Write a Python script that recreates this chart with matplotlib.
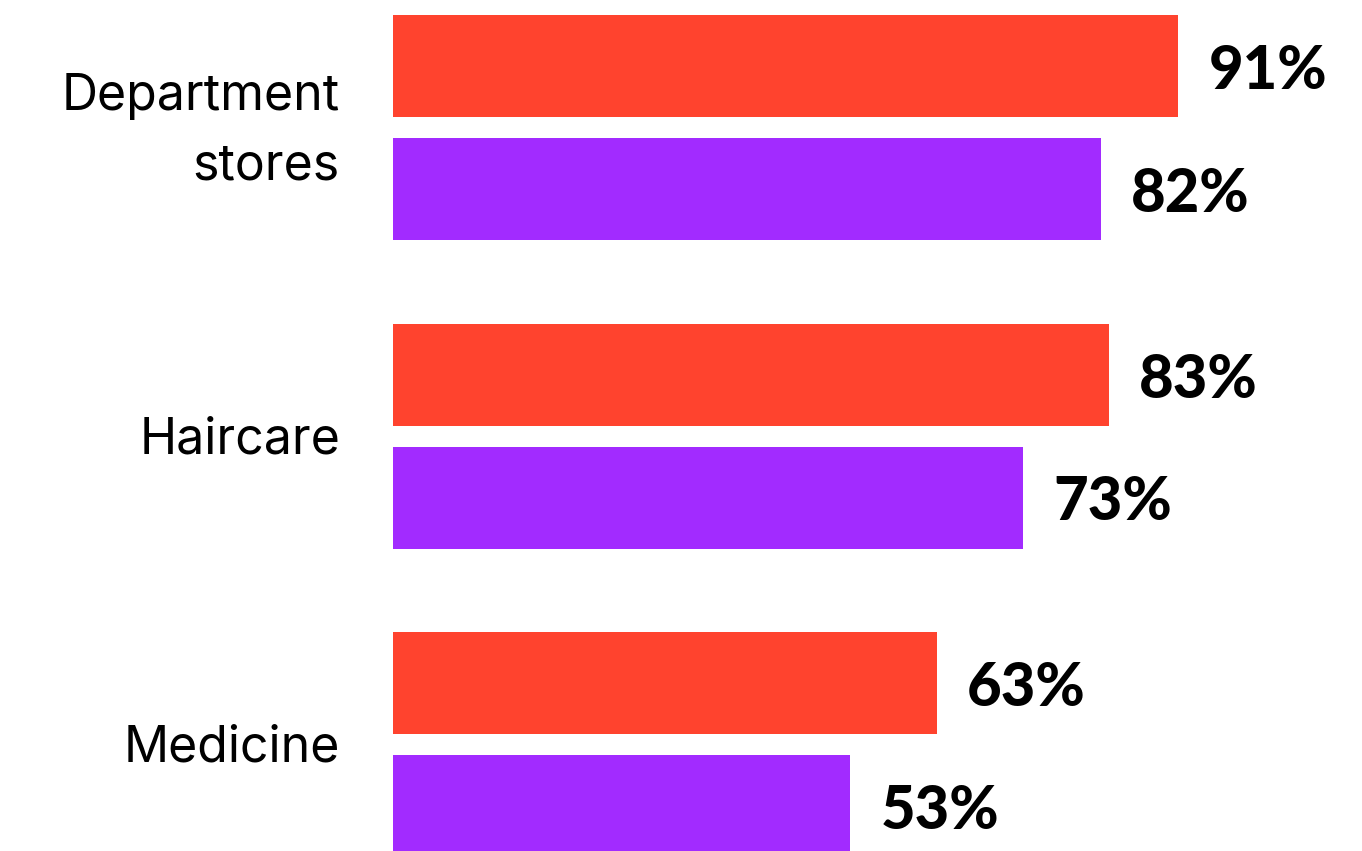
import matplotlib
matplotlib.use("Agg")
import matplotlib.pyplot as plt

categories = ["Department\nstores", "Haircare", "Medicine"]
series_a = [91, 83, 63]   # red bars
series_b = [82, 73, 53]   # purple bars
color_a = "#FF432E"
color_b = "#A22BFF"

W, H = 1362, 851
fig = plt.figure(figsize=(W / 100, H / 100), dpi=100)
ax = fig.add_axes([393 / W, 0, 1 - 393 / W, 1])

# layout in pixel units along y (top = 0)
group_step = 308.5
first_center = 66
pair_gap = 123
bar_h = 102

ax.set_xlim(0, (W - 393) / 8.63)
ax.set_ylim(H, 0)
ax.axis("off")

num_font = dict(family="Lato", weight="black", fontsize=43)
cat_font = dict(family="Inter", fontsize=36)

for i, (cat, a, b) in enumerate(zip(categories, series_a, series_b)):
    ya = first_center + group_step * i
    yb = ya + pair_gap
    ax.barh(ya, a, height=bar_h, color=color_a, linewidth=0)
    ax.barh(yb, b, height=bar_h, color=color_b, linewidth=0)
    for y, v in ((ya, a), (yb, b)):
        ax.annotate(f"{v}%", xy=(v, y), xytext=(30, -5), textcoords="offset pixels",
                    ha="left", va="center", color="black", **num_font)
    ax.annotate(cat, xy=(0, (ya + yb) / 2), xytext=(-53, -4), textcoords="offset pixels",
                ha="right", va="center", color="black", linespacing=1.6,
                annotation_clip=False, **cat_font)

fig.savefig("out.png", dpi=100, facecolor="white")
